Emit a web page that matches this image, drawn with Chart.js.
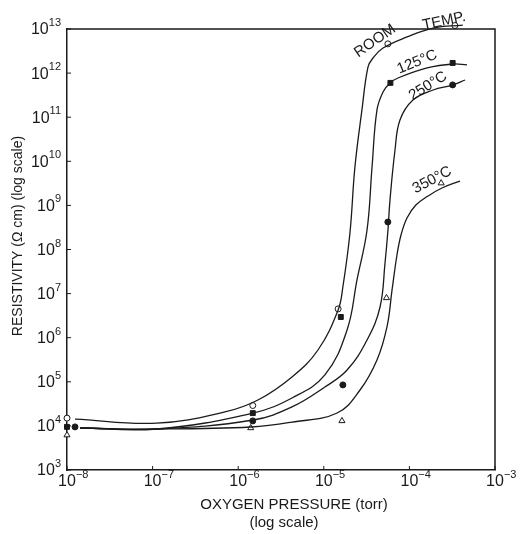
<!DOCTYPE html>
<html lang="en">
<head>
  <meta charset="UTF-8">
  <title>Resistivity vs oxygen pressure</title>
  <script src="https://cdn.jsdelivr.net/npm/chart.js"></script>
  <style>
    body {
      margin: 0;
      padding: 0;
      background: #ffffff;
    }
    canvas {
      display: block;
    }
  </style>
</head>
<body>
  <canvas id="chart" width="525" height="534"></canvas>

  <script>
    // axis decades
    const xTicks = [1e-8, 1e-7, 1e-6, 1e-5, 1e-4, 1e-3];
    const yTicks = [1e3, 1e4, 1e5, 1e6, 1e7, 1e8, 1e9, 1e10, 1e11, 1e12, 1e13];

    // smooth curves
    const roomX = [1.24e-8, 1.12e-7, 7.0e-7, 1.7e-6, 4.25e-6, 8.55e-6, 1.47e-5, 1.67e-5, 2.02e-5, 2.31e-5, 2.79e-5, 3.28e-5, 3.76e-5, 4.92e-5, 9.4e-5, 1.89e-4, 4.2e-4];
    const roomY = [1.43e4, 1.16e4, 2.07e4, 3.86e4, 1.29e5, 5.26e5, 4.25e6, 1.41e7, 2.37e8, 7.43e9, 1.46e11, 1.37e12, 2.2e12, 3.7e12, 6.6e12, 1.05e13, 1.23e13];

    const c125X = [1.42e-8, 1.12e-7, 1.49e-6, 4.25e-6, 1.03e-5, 1.87e-5, 2.44e-5, 3.2e-5, 3.66e-5, 4.18e-5, 4.92e-5, 5.93e-5, 7.36e-5, 1.61e-4, 3.23e-4, 4.71e-4];
    const c125Y = [8.95e3, 8.5e3, 1.96e4, 4.3e4, 1.43e5, 1.5e6, 2.03e7, 2.77e8, 7.43e9, 1.46e11, 3.72e11, 5.97e11, 7.74e11, 1.31e12, 1.61e12, 1.53e12];

    const c250X = [1.42e-8, 1.12e-7, 1.49e-6, 4.25e-6, 1.03e-5, 1.87e-5, 3.2e-5, 4.54e-5, 5.19e-5, 5.62e-5, 5.93e-5, 6.79e-5, 7.76e-5, 1.1e-4, 1.89e-4, 3.23e-4, 4.47e-4];
    const c250Y = [8.95e3, 8.5e3, 1.36e4, 2.69e4, 7.62e4, 1.85e5, 8.87e5, 4.97e6, 4.94e7, 2.77e8, 1.32e9, 1.8e10, 8.65e10, 2.45e11, 4.14e11, 5.37e11, 6.98e11];

    const c350X = [1.42e-8, 1.12e-7, 1.41e-6, 4.25e-6, 1.43e-5, 2.65e-5, 4.18e-5, 5.47e-5, 6.27e-5, 7.16e-5, 7.98e-5, 9.37e-5, 1.19e-4, 1.65e-4, 2.4e-4, 3.9e-4];
    const c350Y = [8.95e3, 8.5e3, 9.44e3, 1.22e4, 1.96e4, 6.52e4, 3.12e5, 1.75e6, 1.21e7, 7.5e7, 2.13e8, 5.17e8, 1.02e9, 1.63e9, 2.48e9, 3.57e9];

    // measured points
    const roomPtX = [1e-8, 1.48e-6, 1.47e-5, 5.6e-5, 3.4e-4];
    const roomPtY = [1.5e4, 2.9e4, 4.5e6, 4.6e12, 1.2e13];
    const p125X = [1e-8, 1.48e-6, 1.58e-5, 6.0e-5, 3.2e-4];
    const p125Y = [9.5e3, 1.95e4, 2.95e6, 6.0e11, 1.7e12];
    const p250X = [1.24e-8, 1.48e-6, 1.67e-5, 5.6e-5, 3.2e-4];
    const p250Y = [9.5e3, 1.3e4, 8.5e4, 4.2e8, 5.4e11];
    const p350X = [1e-8, 1.4e-6, 1.63e-5, 5.4e-5, 2.35e-4];
    const p350Y = [6.2e3, 9.0e3, 1.3e4, 8.0e6, 3.2e9];

    // curve labels
    const labelText = ['ROOM', 'TEMP.', '125°C', '250°C', '350°C'];
    const labelX = [3.96e-5, 2.54e-4, 1.23e-4, 1.65e-4, 1.84e-4];
    const labelY = [5.35e12, 1.5e13, 1.79e12, 5.1e11, 3.77e9];
    const labelAngle = [-35, -12, -22, -32, -28];

    const ink = '#1a1a1a';
    const font = 'Liberation Sans, Arial, sans-serif';

    const pairs = (xs, ys) => xs.map((x, i) => ({ x: x, y: ys[i] }));
    const expOf = (v) => String(Math.round(Math.log10(v))).replace('-', '−');

    function curve(xs, ys) {
      return {
        data: pairs(xs, ys),
        showLine: true,
        borderColor: ink,
        borderWidth: 1.3,
        pointRadius: 0,
        tension: 0.4,
        clip: false
      };
    }

    function marks(xs, ys, style, fill, r) {
      return {
        data: pairs(xs, ys),
        showLine: false,
        pointStyle: style,
        pointRadius: r,
        pointBackgroundColor: fill,
        pointBorderColor: ink,
        pointBorderWidth: 1,
        clip: false
      };
    }

    // "10" with a raised exponent
    function powerText(ctx, exp, x, y, align) {
      ctx.font = '16px ' + font;
      const wb = ctx.measureText('10').width;
      ctx.font = '11px ' + font;
      const we = ctx.measureText(exp).width;
      const left = align === 'right' ? x - wb - we : x - wb / 2;
      ctx.textAlign = 'left';
      ctx.textBaseline = 'middle';
      ctx.font = '16px ' + font;
      ctx.fillText('10', left, y);
      ctx.font = '11px ' + font;
      ctx.fillText(exp, left + wb, y - 7);
    }

    // frame, inward ticks, tick labels, titles and curve labels
    const annotate = {
      id: 'annotate',
      afterDraw(chart) {
        const ctx = chart.ctx;
        const a = chart.chartArea;
        const xs = chart.scales.x;
        const ys = chart.scales.y;
        ctx.save();
        ctx.strokeStyle = ink;
        ctx.lineWidth = 1.5;
        ctx.beginPath();
        ctx.moveTo(a.left, a.top);
        ctx.lineTo(a.right, a.top);
        ctx.lineTo(a.right, a.bottom);
        ctx.stroke();

        ctx.lineWidth = 1;
        ctx.beginPath();
        xTicks.forEach(v => {
          const px = xs.getPixelForValue(v);
          ctx.moveTo(px, a.bottom);
          ctx.lineTo(px, a.bottom - 4);
        });
        yTicks.forEach(v => {
          const py = ys.getPixelForValue(v);
          ctx.moveTo(a.left, py);
          ctx.lineTo(a.left + 4, py);
        });
        ctx.stroke();

        ctx.fillStyle = ink;
        xTicks.forEach(v => powerText(ctx, expOf(v), xs.getPixelForValue(v), a.bottom + 12, 'center'));
        yTicks.forEach(v => powerText(ctx, expOf(v), a.left - 6, ys.getPixelForValue(v) + 1, 'right'));

        ctx.textAlign = 'center';
        ctx.textBaseline = 'middle';
        ctx.font = '15px ' + font;
        ctx.fillText('OXYGEN PRESSURE (torr)', 294, 505);
        ctx.fillText('(log scale)', 284, 523);

        ctx.save();
        ctx.translate(18, 236);
        ctx.rotate(-Math.PI / 2);
        ctx.font = '14px ' + font;
        ctx.fillText('RESISTIVITY (Ω cm) (log scale)', 0, 0);
        ctx.restore();

        ctx.font = '15px ' + font;
        labelText.forEach((t, i) => {
          ctx.save();
          ctx.translate(xs.getPixelForValue(labelX[i]), ys.getPixelForValue(labelY[i]));
          ctx.rotate(labelAngle[i] * Math.PI / 180);
          ctx.fillText(t, 0, 0);
          ctx.restore();
        });
        ctx.restore();
      }
    };

    new Chart(document.getElementById('chart'), {
      type: 'scatter',
      data: {
        datasets: [
          curve(roomX, roomY),
          curve(c125X, c125Y),
          curve(c250X, c250Y),
          curve(c350X, c350Y),
          marks(roomPtX, roomPtY, 'circle', '#ffffff', 3),
          marks(p125X, p125Y, 'rect', ink, 3.5),
          marks(p250X, p250Y, 'circle', ink, 3),
          marks(p350X, p350Y, 'triangle', '#ffffff', 3.5)
        ]
      },
      options: {
        responsive: false,
        animation: false,
        layout: { padding: { top: 29, right: 30, left: 0, bottom: 0 } },
        plugins: {
          legend: { display: false },
          tooltip: { enabled: false }
        },
        scales: {
          x: {
            type: 'logarithmic',
            min: 1e-8,
            max: 1e-3,
            afterBuildTicks: (s) => { s.ticks = xTicks.map(v => ({ value: v })); },
            afterFit: (s) => { s.height = 64; },
            grid: { drawOnChartArea: false, drawTicks: false },
            border: { color: ink, width: 1.5 },
            ticks: { display: false }
          },
          y: {
            type: 'logarithmic',
            min: 1e3,
            max: 1e13,
            afterBuildTicks: (s) => { s.ticks = yTicks.map(v => ({ value: v })); },
            afterFit: (s) => { s.width = 67; },
            grid: { drawOnChartArea: false, drawTicks: false },
            border: { color: ink, width: 1.5 },
            ticks: { display: false }
          }
        }
      },
      plugins: [annotate]
    });
  </script>
</body>
</html>
